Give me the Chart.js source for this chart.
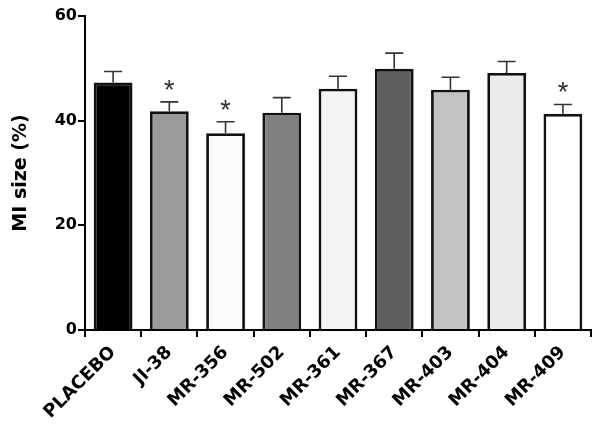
<!DOCTYPE html>
<html>
<head>
<meta charset="utf-8">
<script src="https://cdn.jsdelivr.net/npm/chart.js@4"></script>
<style>
  html, body { margin: 0; padding: 0; background: #fff; }
  #wrap { width: 602px; height: 430px; }
</style>
</head>
<body>
<div id="wrap"><canvas id="c" width="602" height="430"></canvas></div>
<script>
const categories = ['PLACEBO', 'JI-38', 'MR-356', 'MR-502', 'MR-361', 'MR-367', 'MR-403', 'MR-404', 'MR-409'];
const values = [47.3, 41.8, 37.6, 41.5, 46.1, 49.9, 45.9, 49.1, 41.3];
const errors = [2.1, 1.8, 2.2, 2.9, 2.4, 3.0, 2.4, 2.2, 1.8];
const significant = [false, true, true, false, false, false, false, false, true];
const barColors = ['#000000', '#9a9a9a', '#fbfbfb', '#808080', '#f3f3f3', '#5f5f5f', '#c3c3c3', '#ebebeb', '#ffffff'];
const yTicks = [0, 20, 40, 60];

const FONT = '"DejaVu Sans", "Liberation Sans", Arial, sans-serif';

const errorBarPlugin = {
  id: 'errorBars',
  afterDatasetsDraw(chart) {
    const ctx = chart.ctx;
    const xs = chart.scales.x, ys = chart.scales.y;
    ctx.save();
    ctx.strokeStyle = '#333';
    ctx.lineWidth = 1.6;
    values.forEach((v, i) => {
      const x = xs.getPixelForValue(i);
      const y0 = ys.getPixelForValue(v);
      const y1 = ys.getPixelForValue(v + errors[i]);
      ctx.beginPath();
      ctx.moveTo(x, y0);
      ctx.lineTo(x, y1);
      ctx.moveTo(x - 9, y1);
      ctx.lineTo(x + 9, y1);
      ctx.stroke();
      if (significant[i]) {
        ctx.fillStyle = '#333';
        ctx.font = '27px "Liberation Sans", Arial, sans-serif';
        ctx.textAlign = 'center';
        ctx.textBaseline = 'alphabetic';
        ctx.fillText('*', x, y1 - 3);
      }
    });
    ctx.restore();
  }
};

new Chart(document.getElementById('c'), {
  type: 'bar',
  data: {
    labels: categories,
    datasets: [{
      data: values,
      backgroundColor: barColors,
      borderColor: '#111',
      borderWidth: 2.8,
      barPercentage: 0.69,
      categoryPercentage: 1.0
    }]
  },
  options: {
    responsive: false,
    animation: false,
    devicePixelRatio: 1,
    layout: { padding: { top: 16, right: 11, left: 10, bottom: 0 } },
    plugins: { legend: { display: false }, tooltip: { enabled: false } },
    scales: {
      x: {
        offset: true,
        grid: { display: true, drawOnChartArea: false, drawTicks: true, tickLength: 7, color: '#000', lineWidth: 2 },
        border: { display: true, color: '#000', width: 2 },
        ticks: { color: '#000', font: { family: FONT, size: 18, weight: 'bold' }, minRotation: 45, maxRotation: 45, padding: 5 },
        afterFit(scale) { scale.height = 100; }
      },
      y: {
        min: 0, max: 60,
        afterBuildTicks(scale) { scale.ticks = yTicks.map(v => ({ value: v })); },
        grid: { display: true, drawOnChartArea: false, drawTicks: true, tickLength: 7, color: '#000', lineWidth: 2 },
        border: { display: true, color: '#000', width: 2 },
        ticks: { color: '#000', font: { family: FONT, size: 16, weight: 'bold' }, padding: 1 },
        title: { display: true, text: 'MI size (%)', color: '#000', font: { family: FONT, size: 19, weight: 'bold' }, padding: { top: 0, bottom: 5 } },
        afterFit(scale) { scale.width = 75; }
      }
    }
  },
  plugins: [errorBarPlugin]
});
</script>
</body>
</html>
